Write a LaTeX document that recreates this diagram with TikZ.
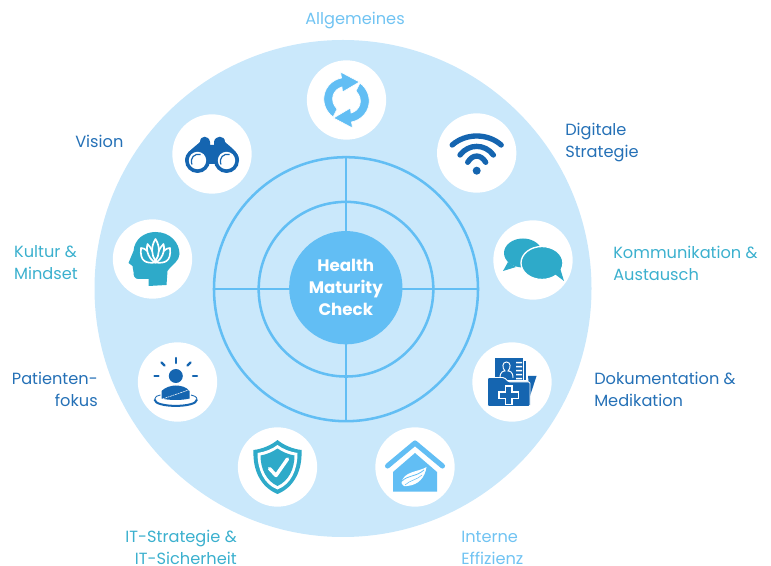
\documentclass[tikz,border=0pt]{standalone}
\usepackage{fontspec}
\setmainfont{Poppins}
\definecolor{disc}{HTML}{CAE8FB}
\definecolor{ringc}{HTML}{62BEF4}
\definecolor{dark}{HTML}{1565B0}
\definecolor{teal2}{HTML}{2EAAC9}
\definecolor{lbldark}{HTML}{2470B6}
\definecolor{lbllight}{HTML}{70C3F2}
\definecolor{lblteal}{HTML}{3BB0CE}
\tikzset{
  bigdisc/.style={circle,fill=disc,inner sep=0pt,minimum size=372.75pt},
  ringn/.style={circle,draw=ringc,line width=1.9pt,inner sep=0pt},
  spoke/.style={draw=ringc,line width=1.9pt},
  hub/.style={circle,fill=ringc,inner sep=0pt,minimum size=85pt,text=white,align=center,
     font=\fontsize{12.5}{16.6}\selectfont\bfseries},
  iconbg/.style={circle,fill=white,inner sep=0pt,minimum size=59.5pt},
  lbl/.style={inner sep=0pt,font=\fontsize{12.15}{16.5}\selectfont},
}
\begin{document}
\begin{tikzpicture}[x=0.75pt,y=-0.75pt]
\useasboundingbox (0,0) rectangle (771,566);
\node[bigdisc] (disc) at (343,288.5) {};
\node[ringn,minimum size=198pt] (outer) at (346,289.2) {};
\node[ringn,minimum size=131pt] (inner) at (346,289.2) {};
\draw[spoke] (outer.north)--(outer.south);
\draw[spoke] (outer.west)--(outer.east);
\node[hub] (hub) at (345.8,287.7) {Health\\Maturity\\Check};
\node[iconbg] (ia) at (346.5,100) {};
\node[iconbg] (ib) at (476.7,153) {};
\node[iconbg] (ic) at (533,260) {};
\node[iconbg] (id) at (512,382) {};
\node[iconbg] (ie) at (415,467) {};
\node[iconbg] (if) at (277.5,467) {};
\node[iconbg] (ig) at (177.5,382) {};
\node[iconbg] (ih) at (152.5,259) {};
\node[iconbg] (ii) at (212,154) {};
% sync
\begin{scope}[shift={(ia.center)}]
\foreach \r in {0,180}{
\begin{scope}[rotate=\r]
\fill[ringc,draw=white,line width=.5pt] (-13.5,17) .. controls (-29,5) and (-24,-18) .. (-5,-22) -- (-6,-28) -- (13,-18) -- (-4,-8) -- (-4.5,-13)
 .. controls (-13,-11) and (-18,0) .. (-9.5,9) -- cycle;
\end{scope}}
\end{scope}
% wifi
\begin{scope}[shift={(ib.center)}]
\begin{scope}[draw=dark,line width=4pt,line cap=round]
\draw (-24.5,-8) .. controls (-11,-20) and (11,-20) .. (24.5,-8);
\draw (-16.7,2) .. controls (-8,-9.5) and (8,-9.5) .. (16.7,2);
\draw (-9,9.3) .. controls (-4,1) and (4,1) .. (9,9.3);
\end{scope}
\fill[dark] (0,17.7) circle[radius=4];
\end{scope}
% chat
\begin{scope}[shift={(ic.center)}]
\fill[teal2] (-10,-7) ellipse[x radius=19,y radius=14.5];
\fill[teal2] (-25,2) -- (-30,11) -- (-17,7) -- cycle;
\fill[teal2,draw=white,line width=1pt] (9,3) ellipse[x radius=21,y radius=16.5];
\fill[teal2] (19,12) -- (31,21) -- (27,8) -- cycle;
\end{scope}
% document folder
\begin{scope}[shift={(id.center)}]
\fill[dark] (-17,-24) rectangle (11,-2);
\draw[white,line width=.7pt] (-12,-4) .. controls (-12,-11) and (-8,-11) .. (-7,-11) .. controls (-10,-14) and (-10,-20) .. (-5.5,-20) .. controls (-1,-20) and (-1,-14) .. (-4,-11) .. controls (-3,-11) and (1,-11) .. (1,-4);
\fill[white] (4,-20) rectangle (10,-18.6) (4,-16) rectangle (10,-14.6) (4,-12) rectangle (10,-10.6) (4,-8) rectangle (10,-6.6) (4,-4) rectangle (10,-2.6);
\draw[dark,line width=.8pt] (13,-21) -- (13,-2);
\fill[dark] (16,-6) -- (24.5,-6) -- (18,14) -- cycle;
\fill[dark,draw=white,line width=.7pt,rounded corners=1pt] (-24.5,-4.5) -- (-8,-4.5) -- (-3,0) -- (18,0) -- (18,24.5) -- (-24.5,24.5) -- cycle;
\draw[white,line width=.9pt] (-6.5,4) -- (0,4) -- (0,10) -- (6.5,10) -- (6.5,16.5) -- (0,16.5) -- (0,22.5) -- (-6.5,22.5) -- (-6.5,16.5) -- (-13,16.5) -- (-13,10) -- (-6.5,10) -- cycle;
\end{scope}
% house
\begin{scope}[shift={(ie.center)}]
\draw[ringc,line width=3.8pt,line cap=round,line join=round] (-27.5,-1) -- (0,-24) -- (27.5,-1);
\fill[ringc] (-22,24.5) -- (-22,5) -- (0,-14) -- (22,5) -- (22,24.5) -- cycle;
\fill[white] (11.5,0) .. controls (4,5) and (-12,4) .. (-13.5,16) .. controls (-12,19) and (-10,20) .. (-8,19) .. controls (4,18) and (10,10) .. (11.5,0) -- cycle;
\draw[ringc,line width=.6pt] (-13,14) .. controls (-7,8) and (1,10) .. (9,3);
\draw[ringc,line width=.4pt] (-10,18) .. controls (-5,13) and (2,13) .. (7,8);
\end{scope}
% shield
\begin{scope}[shift={(if.center)}]
\fill[teal2] (0,-27) .. controls (-6,-22) and (-15,-18) .. (-24,-17) .. controls (-25,3) and (-17,20) .. (0,27) .. controls (17,20) and (25,3) .. (24,-17) .. controls (15,-18) and (6,-22) .. (0,-27) -- cycle;
\fill[white] (0,-22) .. controls (-5,-18) and (-13,-15) .. (-20,-14) .. controls (-20,2) and (-14,17) .. (0,22.5) .. controls (14,17) and (20,2) .. (20,-14) .. controls (13,-15) and (5,-18) .. (0,-22) -- cycle;
\fill[teal2] (0,-18.5) .. controls (-5,-15) and (-11,-12.5) .. (-17,-11.5) .. controls (-17,2) and (-11,14) .. (0,19) .. controls (11,14) and (17,2) .. (17,-11.5) .. controls (11,-12.5) and (5,-15) .. (0,-18.5) -- cycle;
\draw[white,line width=2.6pt,line cap=round,line join=round] (-8,1.5) -- (-1.5,8.5) -- (10,-8);
\end{scope}
% patient
\begin{scope}[shift={(ig.center)}]
\begin{scope}[draw=dark,line width=1.8pt,line cap=round]
\draw (-1.7,-24) -- (-1.7,-19);
\draw (-16,-19.5) -- (-13,-16.5);
\draw (13,-19.5) -- (10,-16.5);
\draw (-23,-6) -- (-19,-6);
\draw (15.5,-6) -- (19.5,-6);
\end{scope}
\fill[dark] (-1.7,-6) circle[radius=7];
\draw[dark,line width=1.5pt] (-23,17.5) .. controls (-23,26) and (19.5,26) .. (19.5,17.5);
\draw[dark,line width=.6pt] (-23,17.5) .. controls (-23,14.5) and (-20,13.5) .. (-17,13);
\draw[dark,line width=.6pt] (19.5,17.5) .. controls (19.5,14.5) and (16,13.5) .. (13.5,13);
\fill[dark] (-16,16.5) -- (-16,9) .. controls (-12,5) and (-6,3.5) .. (-1.7,3.5) .. controls (3,3.5) and (9,5) .. (12,9) -- (12,16.5) .. controls (4,18.5) and (-8,18.5) .. (-16,16.5) -- cycle;
\draw[white,line width=.4pt,dashed,dash pattern=on 1.5pt off .5pt] (-15,17) -- (11,8);
\end{scope}
% head
\begin{scope}[shift={(ih.center)}]
\fill[teal2] (-4,27) -- (-4,20) -- (-14,20) .. controls (-18,20) and (-19,17) .. (-19,13) -- (-20,7) -- (-24,4) -- (-19,-8) .. controls (-18,-20) and (-8,-27) .. (3,-27) .. controls (18,-27) and (27,-16) .. (27,-5) .. controls (27,2) and (20,5) .. (15,12) -- (14,26) -- cycle;
\begin{scope}[draw=white,line width=1.25pt,fill=teal2,line join=round]
\filldraw (3,3.5) .. controls (-6,4.5) and (-13,3) .. (-11.5,-11) .. controls (-7,-11) and (-3,-7) .. (3,3.5) -- cycle;
\filldraw (3,3.5) .. controls (12,4.5) and (19,3) .. (17.5,-11) .. controls (13,-11) and (9,-7) .. (3,3.5) -- cycle;
\filldraw (3,3.5) .. controls (-3,1) and (-7,-8) .. (-5,-15) .. controls (-1,-11) and (2,-5) .. (3,3.5) -- cycle;
\filldraw (3,3.5) .. controls (9,1) and (13,-8) .. (11,-15) .. controls (7,-11) and (4,-5) .. (3,3.5) -- cycle;
\filldraw (3,2) .. controls (-1,-4) and (-2,-12) .. (3,-20) .. controls (8,-12) and (7,-4) .. (3,2) -- cycle;
\end{scope}
\end{scope}
% binoculars
\begin{scope}[shift={(ii.center)}]
\fill[dark] (-27,6) .. controls (-26,-2) and (-16,-8) .. (-12,-12) .. controls (-12,-19) and (-3,-19) .. (-2,-12) -- (-2,-9) -- (2,-9) -- (2,-12) .. controls (3,-19) and (13,-19) .. (13,-12) .. controls (17,-8) and (27,-2) .. (27,6) -- (14,10) -- (-14,10) -- cycle;
\foreach \s in {-1,1}{
\fill[dark] (\s*14.5,6.5) circle[radius=12.5];
\fill[white] (\s*14.5,6.5) circle[radius=8.7];
\draw[dark,line width=.9pt] (\s*14.5-5.5,10.5) .. controls (\s*14.5-8,4) and (\s*14.5-3,-1) .. (\s*14.5+3,0.5);
}
\end{scope}
% labels
\node[lbl,text=lbllight] (t1) at (355,20.5) {Allgemeines};
\node[lbl,text=lbldark,anchor=west] (t2) at (75,141) {Vision};
\node[lbl,text=lbldark,anchor=west,align=left] (t3) at (565,142.5) {Digitale\\Strategie};
\node[lbl,text=lblteal,anchor=west,align=left] (t4) at (613,263) {Kommunikation \&\\Austausch};
\node[lbl,text=lbldark,anchor=west,align=left] (t5) at (594,389) {Dokumentation \&\\Medikation};
\node[lbl,text=lbllight,anchor=west,align=left] (t6) at (461,547.5) {Interne\\Effizienz};
\node[lbl,text=lblteal,anchor=east,align=right] (t7) at (237,547.5) {IT-Strategie \&\\IT-Sicherheit};
\node[lbl,text=lbldark,anchor=east,align=right] (t8) at (98,389) {Patienten-\\fokus};
\node[lbl,text=lblteal,anchor=east,align=left] (t9) at (78,263) {Kultur \&\\Mindset};
\end{tikzpicture}
\end{document}
